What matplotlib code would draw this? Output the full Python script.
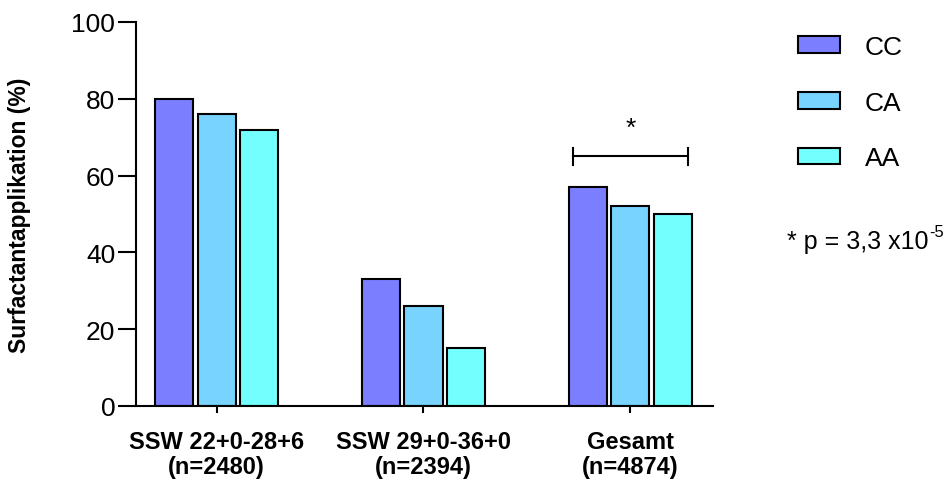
import matplotlib
matplotlib.use('Agg')
import matplotlib.pyplot as plt
import numpy as np
from matplotlib.patches import Patch

plt.rcParams['font.family'] = ['Liberation Sans', 'DejaVu Sans']

groups = ['SSW 22+0-28+6\n(n=2480)', 'SSW 29+0-36+0\n(n=2394)', 'Gesamt\n(n=4874)']
genotypes = ['CC', 'CA', 'AA']
cc = [80, 33, 57]
ca = [76, 26, 52]
aa = [72, 15, 50]
colors = ['#7b7fff', '#78d4ff', '#74ffff']
pvalue_base = '* p = 3,3 x10'
pvalue_exp = '-5'

fig = plt.figure(figsize=(9.53, 4.85), dpi=100)
ax = fig.add_axes([136 / 953, 78 / 485, 577 / 953, 384 / 485])

x = np.arange(len(groups))
width = 0.185
step = 0.205
for i, (vals, col) in enumerate(zip([cc, ca, aa], colors)):
    ax.bar(x + (i - 1) * step, vals, width=width, color=col,
           edgecolor='black', linewidth=1.5, zorder=2)

# significance bracket over Gesamt
bx0, bx1, by = 2 - step - width / 2 + 0.02, 2 + step + width / 2 - 0.02, 65
ax.plot([bx0, bx1], [by, by], color='black', lw=1.5, clip_on=False)
ax.plot([bx0, bx0], [by - 2.3, by + 2.3], color='black', lw=1.5, clip_on=False)
ax.plot([bx1, bx1], [by - 2.3, by + 2.3], color='black', lw=1.5, clip_on=False)
ax.text(2, 72.5, '*', ha='center', va='center', fontsize=19)

ax.set_xlim(-0.39, 2.40)
ax.set_ylim(0, 100)
ax.set_yticks([0, 20, 40, 60, 80, 100])
ax.set_xticks(x)
ax.set_xticklabels(groups, fontsize=17, fontweight='bold', linespacing=1.15)
ax.tick_params(axis='y', labelsize=19, length=13, width=1.5, pad=2)
ax.tick_params(axis='x', length=5, width=1.5, pad=12)
for side in ['top', 'right']:
    ax.spines[side].set_visible(False)
ax.spines['left'].set_linewidth(1.5)
ax.spines['bottom'].set_linewidth(1.5)
ax.set_ylabel('Surfactantapplikation (%)', fontsize=16.5, fontweight='bold', labelpad=29)

handles = [Patch(facecolor=c, edgecolor='black', linewidth=1.5) for c in colors]
fig.legend(handles, genotypes, loc='upper left', bbox_to_anchor=(774 / 953, 0.975),
           frameon=False, fontsize=19, handlelength=1.6, handleheight=0.6,
           labelspacing=1.2, handletextpad=0.95)
t = fig.text(787 / 953, 0.50, pvalue_base, fontsize=18, ha='left', va='center')
ax.annotate(pvalue_exp, xy=(1, 0.62), xycoords=t, xytext=(0.5, 0), textcoords='offset points',
            fontsize=12, ha='left', va='bottom')

fig.savefig('out.png', dpi=100)
